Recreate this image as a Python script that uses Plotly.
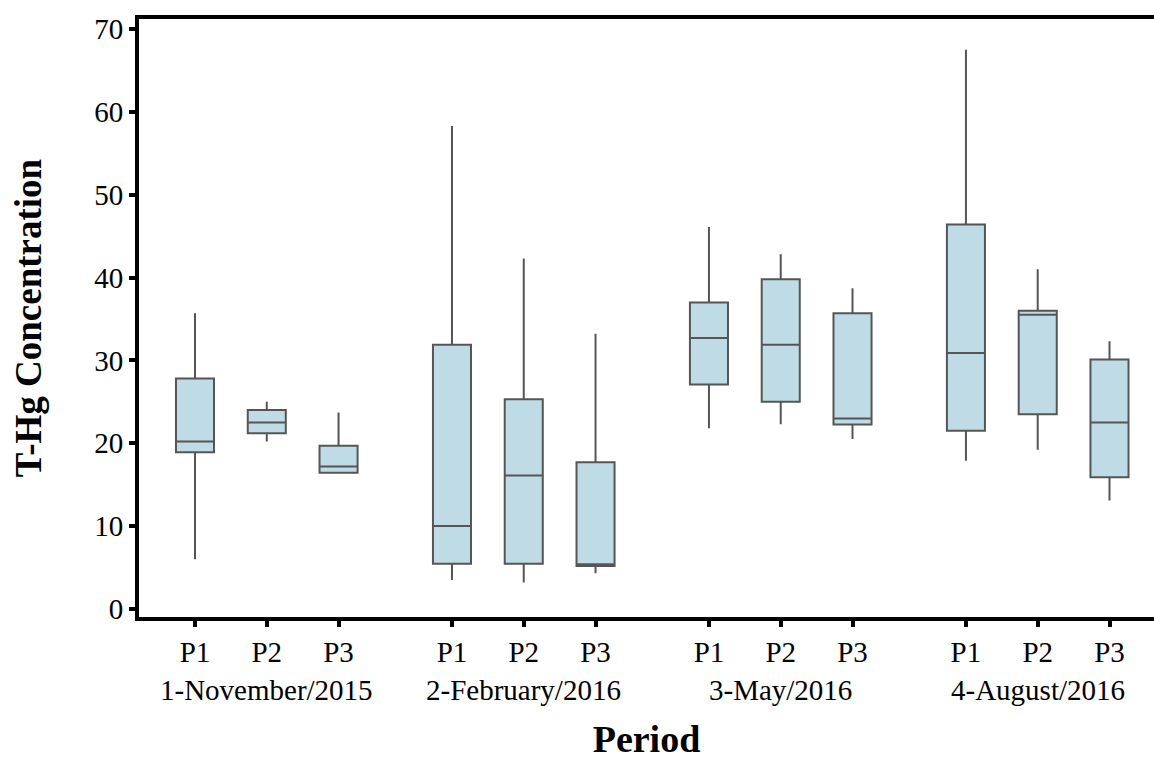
import plotly.graph_objects as go

groups = ["1-November/2015", "2-February/2016", "3-May/2016", "4-August/2016"]
periods = ["P1", "P2", "P3"]

# per group: lists over P1, P2, P3
lower = [[6.0, 20.2, 16.4], [3.5, 3.2, 4.3], [21.8, 22.3, 20.5], [17.9, 19.2, 13.1]]
q1 = [[18.9, 21.2, 16.45], [5.45, 5.45, 5.2], [27.1, 25.0, 22.25], [21.5, 23.5, 15.9]]
median = [[20.2, 22.5, 17.2], [10.0, 16.1, 5.4], [32.7, 31.9, 23.0], [30.9, 35.5, 22.5]]
q3 = [[27.8, 24.0, 19.7], [31.9, 25.3, 17.7], [37.0, 39.8, 35.7], [46.4, 36.0, 30.1]]
upper = [[35.7, 25.0, 23.7], [58.3, 42.3, 33.2], [46.1, 42.8, 38.7], [67.5, 41.0, 32.3]]

GROUP_STEP = 3.58
xs, L, Q1, M, Q3, U, tv, tt = [], [], [], [], [], [], [], []
for g in range(len(groups)):
    for p in range(len(periods)):
        x = g * GROUP_STEP + p
        xs.append(x)
        tv.append(x)
        tt.append(periods[p])
        L.append(lower[g][p]); Q1.append(q1[g][p]); M.append(median[g][p])
        Q3.append(q3[g][p]); U.append(upper[g][p])

fig = go.Figure()
fig.add_trace(go.Box(
    x=xs, lowerfence=L, q1=Q1, median=M, q3=Q3, upperfence=U,
    width=0.53, whiskerwidth=0,
    fillcolor="#BFDCE6", line=dict(color="#555555", width=2),
    boxpoints=False, showlegend=False, hoverinfo="skip",
))

font_family = "Liberation Serif"
for g, name in enumerate(groups):
    fig.add_annotation(
        x=g * GROUP_STEP + 1, y=0, xref="x", yref="paper",
        text=name, showarrow=False, yanchor="top", yshift=-55,
        font=dict(family=font_family, size=29, color="black"),
    )

fig.update_layout(
    width=1154, height=760,
    margin=dict(l=139, r=0, t=19, b=143),
    plot_bgcolor="white", paper_bgcolor="white",
    font=dict(family=font_family, color="black"),
    xaxis=dict(
        range=[-0.78, 13.36], tickvals=tv, ticktext=tt,
        showline=True, linecolor="black", linewidth=4, mirror=True,
        ticks="outside", ticklen=6, tickwidth=4, tickcolor="black",
        showgrid=False, zeroline=False,
        tickfont=dict(family=font_family, size=29, color="black"),
        title=dict(text="<b>Period</b>", font=dict(family=font_family, size=38, color="black"), standoff=64),
    ),
    yaxis=dict(
        range=[-0.97, 71.2], tickvals=[0, 10, 20, 30, 40, 50, 60, 70],
        showline=True, linecolor="black", linewidth=4,
        ticks="outside", ticklen=6, tickwidth=4, tickcolor="black",
        showgrid=False, zeroline=False,
        tickfont=dict(family=font_family, size=29, color="black"),
        title=dict(text="<b>T-Hg Concentration</b>", font=dict(family=font_family, size=37, color="black"), standoff=42),
    ),
)

fig.write_html("out.html")
